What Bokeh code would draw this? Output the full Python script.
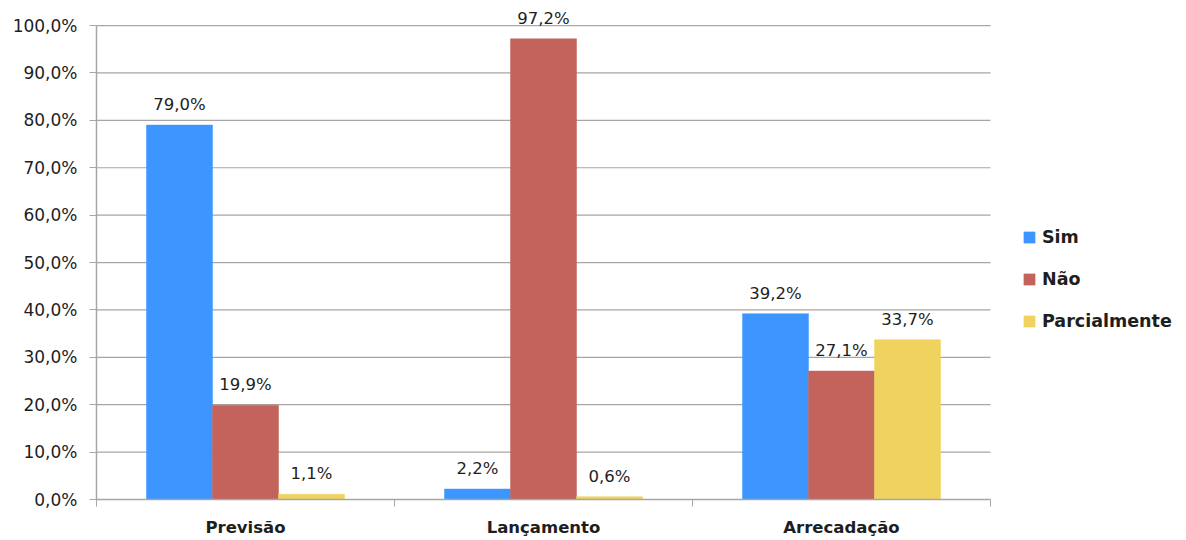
from bokeh.plotting import figure
from bokeh.models import (Range1d, FixedTicker, Legend, LegendItem, ColumnDataSource)
from bokeh.core.properties import value
from bokeh.embed import file_html
from bokeh.resources import INLINE

# ---- data ----
categories = ["Previsão", "Lançamento", "Arrecadação"]
series_names = ["Sim", "Não", "Parcialmente"]
sim = [79.0, 2.2, 39.2]
nao = [19.9, 97.2, 27.1]
parcialmente = [1.1, 0.6, 33.7]
y_ticks = [0, 10, 20, 30, 40, 50, 60, 70, 80, 90, 100]
y_tick_labels = ["0,0%", "10,0%", "20,0%", "30,0%", "40,0%", "50,0%",
                 "60,0%", "70,0%", "80,0%", "90,0%", "100,0%"]

colors = ["#3d96ff", "#c4635b", "#f0d35e"]
FONT = "DejaVu Sans"
TEXT_COLOR = "#1e1e1e"
GRID_COLOR = "#a6a6a6"

n = len(categories)
plot_w = 894          # width of the bar area
legend_w = 188        # room on the right for the legend
x_end = n * (plot_w + legend_w) / plot_w

p = figure(frame_width=plot_w + legend_w, frame_height=491, output_backend="svg",
           toolbar_location=None,
           x_range=Range1d(0, x_end), y_range=Range1d(0, 103.6),
           min_border_left=96, min_border_right=0, min_border_top=8,
           min_border_bottom=35)
p.outline_line_color = None
p.background_fill_color = "white"
p.border_fill_color = "white"

# horizontal gridlines restricted to the bar area
p.xgrid.grid_line_color = None
p.ygrid.grid_line_color = None
grid_src = ColumnDataSource(dict(y=y_ticks[1:], x0=[0] * (len(y_ticks) - 1),
                                 x1=[n] * (len(y_ticks) - 1)))
p.segment(x0="x0", x1="x1", y0="y", y1="y", source=grid_src,
          line_color=GRID_COLOR, line_width=1.2, level="underlay")

bar_w = 0.2215
offsets = [-bar_w, 0.0, bar_w]
all_series = [sim, nao, parcialmente]
renderers = []
for vals, off, col in zip(all_series, offsets, colors):
    xs = [i + 0.5 + off for i in range(n)]
    labels = [f"{v:.1f}".replace(".", ",") + "%" for v in vals]
    src = ColumnDataSource(dict(x=xs, top=vals, label=labels))
    r = p.vbar(x="x", top="top", width=bar_w, bottom=0, source=src,
               fill_color=col, line_color=col, line_width=0.5)
    renderers.append(r)
    p.text(x="x", y="top", text="label", source=src, text_align="center",
           text_baseline="bottom", y_offset=-11, text_font=value(FONT),
           text_font_size="16.5px", text_color=TEXT_COLOR)

# x axis: labels at category centres, ticks at boundaries
xa = p.xaxis[0]
xa.bounds = (0, n)
xa.ticker = FixedTicker(ticks=[i + 0.5 for i in range(n)],
                        minor_ticks=list(range(n + 1)))
xa.major_label_overrides = {i + 0.5: c for i, c in enumerate(categories)}
xa.major_tick_out = 0
xa.major_tick_in = 0
xa.minor_tick_out = 7
xa.minor_tick_in = 0
xa.minor_tick_line_color = GRID_COLOR
xa.axis_line_color = GRID_COLOR
xa.axis_line_width = 1.5
xa.major_label_text_font = FONT
xa.major_label_text_font_style = "bold"
xa.major_label_text_font_size = "16.5px"
xa.major_label_text_color = TEXT_COLOR
xa.major_label_standoff = 11

ya = p.yaxis[0]
ya.ticker = FixedTicker(ticks=y_ticks)
ya.major_label_overrides = {t: l for t, l in zip(y_ticks, y_tick_labels)}
ya.bounds = (0, 100)
ya.major_tick_out = 7
ya.major_tick_in = 0
ya.minor_tick_line_color = None
ya.major_tick_line_color = GRID_COLOR
ya.axis_line_color = GRID_COLOR
ya.axis_line_width = 1.5
ya.major_label_text_font = FONT
ya.major_label_text_font_size = "17px"
ya.major_label_text_color = TEXT_COLOR
ya.major_label_standoff = 12

legend = Legend(items=[LegendItem(label=s, renderers=[r]) for s, r in zip(series_names, renderers)],
                location=(plot_w + 32, 168), glyph_width=14, glyph_height=14, label_standoff=6,
                spacing=22, padding=0, margin=0, border_line_color=None,
                background_fill_alpha=0, label_text_font=FONT,
                label_text_font_style="bold", label_text_font_size="17.5px",
                label_text_color=TEXT_COLOR)
p.add_layout(legend, "center")

open("out.html", "w").write(file_html(p, INLINE))
